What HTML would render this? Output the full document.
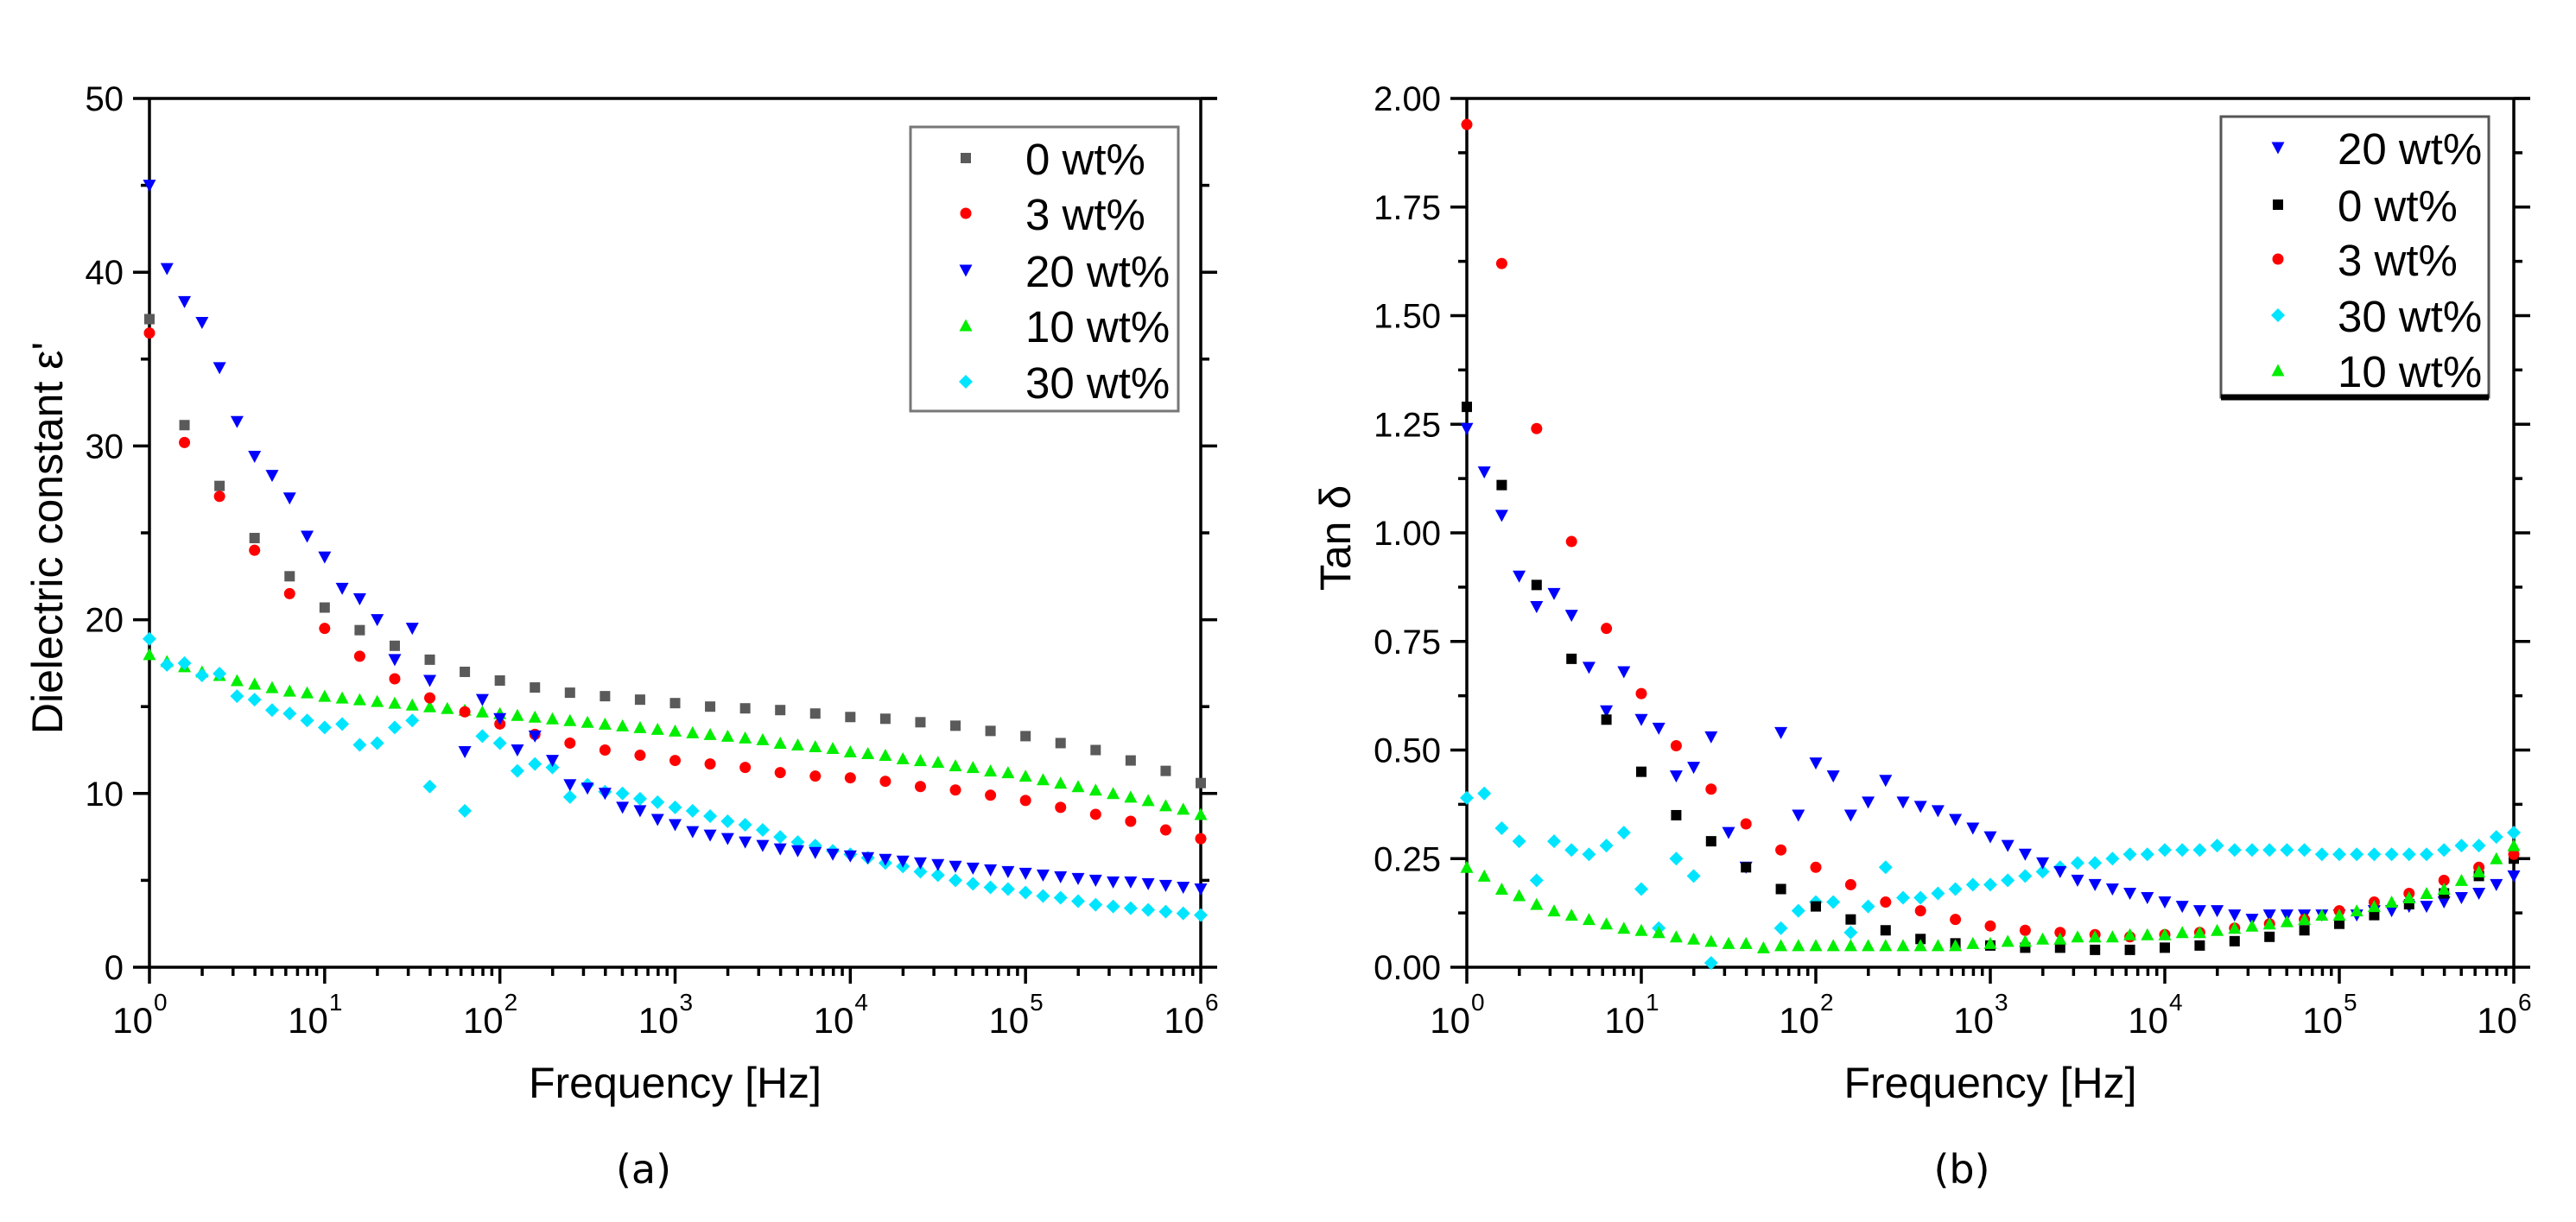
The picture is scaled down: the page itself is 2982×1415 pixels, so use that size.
<!DOCTYPE html>
<html><head><meta charset="utf-8"><style>
html,body{margin:0;padding:0;background:#fff;}
svg{display:block;font-family:"Liberation Sans",sans-serif;}
</style></head><body>
<svg id="fig" width="2982" height="1415" viewBox="0 0 2982 1415" xmlns="http://www.w3.org/2000/svg">
<g id="pa"></g>
<g id="pb"></g>
</svg>
<script>
// ---------- data: panel (a) dielectric constant ----------
const aYTicks = [0, 10, 20, 30, 40, 50];
const a0wt = [37.3,31.2,27.7,24.7,22.5,20.7,19.4,18.5,17.7,17.0,16.5,16.1,15.8,15.6,15.4,15.2,15.0,14.9,14.8,14.6,14.4,14.3,14.1,13.9,13.6,13.3,12.9,12.5,11.9,11.3,10.6];
const a3wt = [36.5,30.2,27.1,24.0,21.5,19.5,17.9,16.6,15.5,14.7,14.0,13.4,12.9,12.5,12.2,11.9,11.7,11.5,11.2,11.0,10.9,10.7,10.4,10.2,9.9,9.6,9.2,8.8,8.4,7.9,7.4];
const a20wt = [45.0,40.2,38.3,37.1,34.5,31.4,29.4,28.3,27.0,24.8,23.6,21.8,21.2,20.0,17.7,19.5,16.5,null,12.4,15.4,14.3,12.5,13.3,11.9,10.5,10.3,10.0,9.2,9.0,8.5,8.2,7.8,7.6,7.4,7.2,7.0,6.8,6.7,6.6,6.5,6.4,6.3,6.2,6.1,6.0,5.9,5.8,5.7,5.6,5.5,5.4,5.3,5.2,5.1,5.0,4.9,4.9,4.8,4.7,4.6,4.5];
const a10wt = [18.0,17.6,17.3,17.0,16.8,16.5,16.3,16.1,15.9,15.8,15.6,15.5,15.4,15.3,15.2,15.1,15.0,14.9,14.8,14.7,14.6,14.5,14.4,14.3,14.2,14.1,14.0,13.9,13.8,13.7,13.6,13.5,13.4,13.3,13.2,13.1,12.9,12.8,12.7,12.6,12.4,12.3,12.2,12.0,11.9,11.8,11.6,11.5,11.3,11.2,11.0,10.8,10.6,10.4,10.2,10.0,9.8,9.6,9.3,9.1,8.8];
const a30wt = [18.9,17.4,17.5,16.8,16.9,15.6,15.4,14.8,14.6,14.2,13.8,14.0,12.8,12.9,13.8,14.2,10.4,null,9.0,13.3,12.9,11.3,11.7,11.5,9.8,10.5,10.1,10.0,9.7,9.5,9.2,9.0,8.7,8.4,8.2,7.9,7.5,7.2,7.0,6.7,6.5,6.3,6.0,5.8,5.5,5.3,5.0,4.8,4.6,4.5,4.3,4.1,4.0,3.8,3.6,3.5,3.4,3.3,3.2,3.1,3.0];
// ---------- data: panel (b) tan delta ----------
const bYTicks = [0, 0.25, 0.5, 0.75, 1.0, 1.25, 1.5, 1.75, 2.0];
const bYTickLabels = ["0.00","0.25","0.50","0.75","1.00","1.25","1.50","1.75","2.00"];
const b20wt = [1.24,1.14,1.04,0.90,0.83,0.86,0.81,0.69,0.59,0.68,0.57,0.55,0.44,0.46,0.53,0.31,0.23,null,0.54,0.35,0.47,0.44,0.35,0.38,0.43,0.38,0.37,0.36,0.34,0.32,0.30,0.28,0.26,0.24,0.22,0.20,0.19,0.18,0.17,0.16,0.15,0.14,0.13,0.13,0.12,0.11,0.12,0.12,0.12,0.12,0.12,0.12,0.13,0.13,0.14,0.14,0.15,0.16,0.17,0.19,0.21];
const b0wt = [1.29,1.11,0.88,0.71,0.57,0.45,0.35,0.29,0.23,0.18,0.14,0.11,0.085,0.065,0.055,0.05,0.045,0.045,0.04,0.04,0.045,0.05,0.06,0.07,0.085,0.10,0.12,0.145,0.17,0.21,0.25];
const b3wt = [1.94,1.62,1.24,0.98,0.78,0.63,0.51,0.41,0.33,0.27,0.23,0.19,0.15,0.13,0.11,0.095,0.085,0.08,0.075,0.07,0.075,0.08,0.09,0.10,0.11,0.13,0.15,0.17,0.20,0.23,0.26];
const b30wt = [0.39,0.40,0.32,0.29,0.20,0.29,0.27,0.26,0.28,0.31,0.18,0.09,0.25,0.21,0.01,null,null,null,0.09,0.13,0.15,0.15,0.08,0.14,0.23,0.16,0.16,0.17,0.18,0.19,0.19,0.20,0.21,0.22,0.23,0.24,0.24,0.25,0.26,0.26,0.27,0.27,0.27,0.28,0.27,0.27,0.27,0.27,0.27,0.26,0.26,0.26,0.26,0.26,0.26,0.26,0.27,0.28,0.28,0.30,0.31];
const b10wt = [0.23,0.21,0.18,0.165,0.145,0.13,0.12,0.11,0.10,0.09,0.085,0.08,0.07,0.065,0.06,0.055,0.055,0.045,0.05,0.05,0.05,0.05,0.05,0.05,0.05,0.05,0.05,0.05,0.05,0.055,0.055,0.06,0.06,0.065,0.065,0.07,0.07,0.07,0.075,0.075,0.075,0.08,0.08,0.085,0.09,0.095,0.10,0.105,0.11,0.12,0.12,0.13,0.14,0.15,0.16,0.17,0.18,0.20,0.22,0.25,0.28];
const xExponents = [0,1,2,3,4,5,6];

const NS = "http://www.w3.org/2000/svg";
function mk(parent, tag, attrs, text){
  const e = document.createElementNS(NS, tag);
  for (const k in attrs) e.setAttribute(k, attrs[k]);
  if (text !== undefined) e.textContent = text;
  parent.appendChild(e);
  return e;
}
function marker(g, shape, color, cx, cy){
  let e;
  if (shape === 'sq') e = mk(g,'rect',{x:cx-6,y:cy-6,width:12,height:12,fill:color});
  else if (shape === 'ci') e = mk(g,'circle',{cx:cx,cy:cy,r:6.5,fill:color});
  else if (shape === 'dn') e = mk(g,'polygon',{points:`${cx-7.5},${cy-6.5} ${cx+7.5},${cy-6.5} ${cx},${cy+7.5}`,fill:color});
  else if (shape === 'up') e = mk(g,'polygon',{points:`${cx-7.5},${cy+6.5} ${cx+7.5},${cy+6.5} ${cx},${cy-7.5}`,fill:color});
  else e = mk(g,'polygon',{points:`${cx},${cy-8} ${cx+8},${cy} ${cx},${cy+8} ${cx-8},${cy}`,fill:color});
  return e;
}

function panel(cfg){
  const g = document.getElementById(cfg.id);
  const L = cfg.left, R = cfg.right, T = 114, B = 1120;
  const xs = v => L + (R - L) * v / 6;
  const ys = v => B - (B - T) * (v - cfg.ymin) / (cfg.ymax - cfg.ymin);
  const ax = mk(g,'g',{});
  
  
  const st = {stroke:'#000','stroke-width':3.5};
  mk(ax,'line',Object.assign({x1:L,y1:B,x2:R,y2:B},st));
  mk(ax,'line',Object.assign({x1:L,y1:T,x2:L,y2:B},st));
  mk(ax,'line',Object.assign({x1:L,y1:T,x2:R+19,y2:T},st));
  mk(ax,'line',Object.assign({x1:R,y1:T,x2:R,y2:B},st));
  xExponents.forEach(e=>{
    const x = xs(e);
    mk(ax,'line',Object.assign({x1:x,y1:B,x2:x,y2:B+19},st));
    const t = mk(g,'text',{x:x+4,y:1196,'font-size':42,'text-anchor':'end'},'10');
    
    
    mk(g,'text',{x:x+5,y:1170,'font-size':28},String(e));
    if (e < 6) for (let m=2;m<=9;m++){
      const xm = xs(e+Math.log10(m));
      mk(ax,'line',Object.assign({x1:xm,y1:B,x2:xm,y2:B+10},st));
    }
  });
  cfg.yticks.forEach((v,i)=>{
    const y = ys(v);
    mk(ax,'line',Object.assign({x1:L-19,y1:y,x2:L,y2:y},st));
    mk(ax,'line',Object.assign({x1:R,y1:y,x2:R+19,y2:y},st));
    const t = mk(g,'text',{x:L-30,y:y+14,'font-size':40,'text-anchor':'end'},cfg.ylabels[i]);
    
    
    if (i < cfg.yticks.length-1){
      const ym = ys((v + cfg.yticks[i+1])/2);
      mk(ax,'line',Object.assign({x1:L-10,y1:ym,x2:L,y2:ym},st));
      mk(ax,'line',Object.assign({x1:R,y1:ym,x2:R+10,y2:ym},st));
    }
  });
  const xt = mk(g,'text',{x:(L+R)/2,y:1271,'font-size':50,'text-anchor':'middle'},'Frequency [Hz]');
  
  
  const yt = mk(g,'text',{x:0,y:0,'font-size':50,'text-anchor':'middle',transform:`translate(${cfg.ytx},623) rotate(-90)`},cfg.ytitle);
  
  
  const cap = mk(g,'text',{x:cfg.capx,y:1370,'font-size':46,'text-anchor':'middle','font-family':'"DejaVu Sans","Liberation Sans",sans-serif'},cfg.caption);
  
  
  cfg.series.forEach(s=>{
    const sg = mk(g,'g',{});
    
    
    s.data.forEach((v,i)=>{
      if (v === null) return;
      const p = marker(sg, s.shape, s.color, xs(i*s.step), ys(v));
      
      
    });
  });
  const lg = mk(g,'g',{});
  
  
  const lb = cfg.legendBox;
  mk(lg,'rect',{x:lb[0],y:lb[1],width:lb[2],height:lb[3],fill:'#fff',stroke:cfg.legendStroke,'stroke-width':3});
  if (cfg.legendUnderline) mk(lg,'line',{x1:lb[0],y1:lb[1]+lb[3],x2:lb[0]+lb[2],y2:lb[1]+lb[3],stroke:'#000','stroke-width':7});
  cfg.legendOrder.forEach((s,i)=>{
    const y = cfg.legendY[i];
    const it = mk(lg,'g',{});
    
    
    marker(it, s.shape, s.color, cfg.legendMx, y);
    mk(it,'text',{x:cfg.legendTx,y:y+19,'font-size':51},s.name);
  });
}

const sA = [
  {name:'0 wt%', shape:'sq', color:'#5a5a5a', data:a0wt, step:0.2},
  {name:'3 wt%', shape:'ci', color:'#ff0000', data:a3wt, step:0.2},
  {name:'20 wt%', shape:'dn', color:'#0000ff', data:a20wt, step:0.1},
  {name:'10 wt%', shape:'up', color:'#00ee00', data:a10wt, step:0.1},
  {name:'30 wt%', shape:'di', color:'#00e5ff', data:a30wt, step:0.1}
];
panel({id:'pa', left:173, right:1390, ymin:0, ymax:50, yticks:aYTicks, ylabels:aYTicks.map(String),
  ytitle:"Dielectric constant ε'", ytx:72, caption:'(a)', capx:745,
  series:[sA[3],sA[4],sA[0],sA[1],sA[2]], legendOrder:sA,
  legendBox:[1054,147,310,329], legendStroke:'#777', legendUnderline:false,
  legendY:[183,247,313,377,442], legendMx:1118, legendTx:1187});

const sB = [
  {name:'20 wt%', shape:'dn', color:'#0000ff', data:b20wt, step:0.1},
  {name:'0 wt%', shape:'sq', color:'#000000', data:b0wt, step:0.2},
  {name:'3 wt%', shape:'ci', color:'#ff0000', data:b3wt, step:0.2},
  {name:'30 wt%', shape:'di', color:'#00e5ff', data:b30wt, step:0.1},
  {name:'10 wt%', shape:'up', color:'#00ee00', data:b10wt, step:0.1}
];
panel({id:'pb', left:1698, right:2910, ymin:0, ymax:2, yticks:bYTicks, ylabels:bYTickLabels,
  ytitle:'Tan δ', ytx:1563, caption:'(b)', capx:2271,
  series:[sB[3],sB[0],sB[1],sB[2],sB[4]], legendOrder:sB,
  legendBox:[2571,135,310,325], legendStroke:'#555', legendUnderline:true,
  legendY:[171,237,300,365,429], legendMx:2637, legendTx:2706});
</script>
</body></html>
